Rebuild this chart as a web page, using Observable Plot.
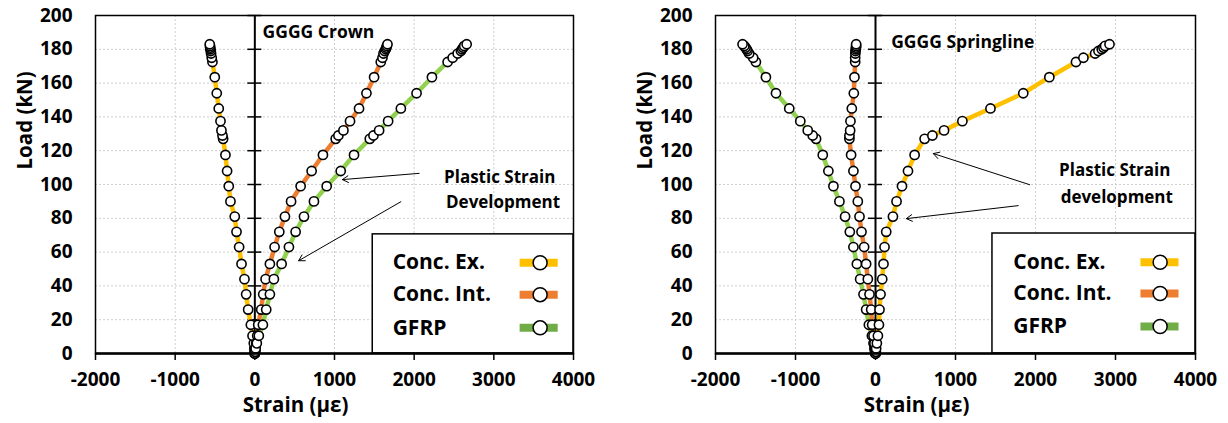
<!DOCTYPE html>
<html><head><meta charset="utf-8">
<script src="https://cdn.jsdelivr.net/npm/d3@7"></script>
<script src="https://cdn.jsdelivr.net/npm/@observablehq/plot@0.6"></script>
<style>
body{margin:0;background:#fff}
#wrap{display:flex;width:1228px;height:423px}
svg{overflow:visible}
</style>
</head><body><div id="wrap"></div>
<script>
// Load steps (kN), shared by all series
const loads = [0,1,3,6,10.5,17,26,35,44,53,63,72,81,90,99,108,117.5,127,129,132,137.5,145,154,163.5,172.5,175,177.5,179,180,181,182,183];

// GGGG Crown strains (με)
const crownEx  = [0,-3,-6,-13,-29,-50,-84,-109,-130,-167,-197,-230,-252,-306,-327,-348,-369,-398,-406,-419,-431,-453,-478,-503,-532,-541,-549,-553,-558,-560,-563,-566];
const crownInt = [0,4,8,17,30,42,80,105,135,189,248,307,378,455,575,713,855,1015,1049,1112,1195,1308,1401,1497,1581,1602,1615,1630,1644,1650,1658,1665];
const crownGfrp = [0,5,10,25,50,101,143,189,239,336,428,512,617,742,902,1078,1245,1443,1489,1560,1673,1833,2030,2223,2420,2483,2546,2587,2600,2615,2629,2659];

// GGGG Springline strains (με)
const springEx  = [0,4,8,17,30,43,50,63,84,100,113,134,218,263,331,406,489,614,711,857,1086,1437,1847,2173,2506,2599,2745,2787,2828,2850,2870,2925];
const springInt = [0,-4,-8,-13,-25,-42,-54,-75,-96,-117,-142,-175,-200,-221,-250,-276,-305,-326,-326,-317,-313,-296,-271,-263,-254,-254,-252,-250,-246,-244,-242,-242];
const springGfrp = [0,-5,-13,-25,-45,-83,-117,-150,-192,-233,-276,-321,-380,-451,-526,-589,-659,-743,-785,-847,-940,-1078,-1244,-1370,-1495,-1529,-1579,-1599,-1610,-1625,-1640,-1662];

const seriesNames = ["Conc. Ex.", "Conc. Int.", "GFRP"];
const lineColors = ["#FFC000", "#ED7D31", "#92D050"];
const legendColors = ["#FFC000", "#ED7D31", "#70AD47"];
const xTicks = [-2000,-1000,0,1000,2000,3000,4000];
const yTicks = [0,20,40,60,80,100,120,140,160,180,200];
const xLabel = "Strain (με)";
const yLabel = "Load (kN)";

const FONT = "'Open Sans', 'Noto Sans', sans-serif";

function chart(cfg) {
  const rows = cfg.series.map((vals, i) => vals.map((v, k) => ({series: seriesNames[i], strain: v, load: loads[k]})));
  const lg = cfg.legend;
  const marks = [
    Plot.gridX(xTicks.filter(t => t > -2000 && t < 4000 && t !== 0), {stroke: "#cfcfcf", strokeOpacity: 1, strokeDasharray: "2,2"}),
    Plot.gridY(yTicks.filter(t => t > 0 && t < 200), {stroke: "#cfcfcf", strokeOpacity: 1, strokeDasharray: "2,2"}),
    Plot.axisX(xTicks, {tickSize: 7, tickPadding: 12, fontSize: 19, fontWeight: 700, strokeWidth: 1.5, label: null, tickFormat: d => String(d)}),
    Plot.axisY(yTicks, {tickSize: 0, tickPadding: 23, fontSize: 19, fontWeight: 700, label: null}),
    Plot.ruleX([0], {stroke: "black", strokeWidth: 2}),
    Plot.ruleY(yTicks.filter(t => t > 0), {x1: -88, x2: 88, stroke: "black", strokeWidth: 1.5}),
    Plot.rect([0], {x1: lg.x1, x2: 4000, y1: 0, y2: lg.y2, fill: "white", stroke: "black", strokeWidth: 1.5}),
    ...cfg.order.map(i => Plot.line(rows[i], {x: "strain", y: "load", stroke: lineColors[i], strokeWidth: 4.5})),
    ...cfg.order.map(i => Plot.dot(rows[i], {x: "strain", y: "load", r: 4.6, fill: "white", stroke: "black", strokeWidth: 1.6})),
    Plot.frame({stroke: "black", strokeWidth: 1.5}),
    Plot.ruleY([0], {stroke: "black", strokeWidth: 2.5}),
    // legend
    ...seriesNames.map((n, i) => Plot.ruleY([lg.rows[i]], {x1: lg.sx1, x2: lg.sx2, stroke: legendColors[i], strokeWidth: 8})),
    Plot.dot(seriesNames, {x: lg.dotX, y: (d, i) => lg.rows[i], r: 7, fill: "white", stroke: "black", strokeWidth: 1.5}),
    Plot.text(seriesNames, {x: lg.textX, y: (d, i) => lg.rows[i], text: d => d, textAnchor: "start", fontSize: 21, fontWeight: 700, fill: "black"}),
    // title
    Plot.text([cfg.title], {x: cfg.titlePos[0], y: cfg.titlePos[1], text: d => d, textAnchor: "start", fontSize: 17.5, fontWeight: 700, fill: "black"}),
    // annotation
    Plot.text(cfg.note, {x: "x", y: "y", text: "t", fontSize: 17, fontWeight: 700, fill: "black"}),
    Plot.arrow(cfg.arrows, {x1: "x1", y1: "y1", x2: "x2", y2: "y2", stroke: "black", strokeWidth: 1, headLength: 10}),
    // axis titles
    Plot.text([xLabel], {frameAnchor: "bottom", dy: 58, dx: -39, text: d => d, fontSize: 20.5, fontWeight: 700, fill: "black"}),
    Plot.text([yLabel], {frameAnchor: "left", dx: -70, dy: -15, rotate: -90, text: d => d, fontSize: 20.5, fontWeight: 700, fill: "black"})
  ];
  return Plot.plot({
    width: 614, height: 423,
    marginLeft: cfg.marginLeft, marginRight: cfg.marginRight, marginTop: 15, marginBottom: 70,
    x: {domain: [-2000, 4000]},
    y: {domain: [0, 200]},
    style: {fontFamily: FONT, color: "black", background: "white", overflow: "visible"},
    marks
  });
}

const wrap = document.getElementById("wrap");
wrap.appendChild(chart({
  series: [crownEx, crownInt, crownGfrp],
  order: [0, 1, 2],
  marginLeft: 95, marginRight: 41,
  title: "GGGG Crown", titlePos: [97, 190],
  legend: {x1: 1480, y2: 70.5, rows: [53.7, 34.8, 15.2], textX: 1730, sx1: 3330, sx2: 3808, dotX: 3581},
  note: [{x: 3074, y: 104, t: "Plastic Strain"}, {x: 3116, y: 89.1, t: "Development"}],
  arrows: [{x1: 2063, y1: 106.6, x2: 1099, y2: 102.9}, {x1: 1833, y1: 89.8, x2: 550, y2: 54.9}]
}));
wrap.appendChild(chart({
  series: [springEx, springInt, springGfrp],
  order: [2, 1, 0],
  marginLeft: 101, marginRight: 33,
  title: "GGGG Springline", titlePos: [196, 184],
  legend: {x1: 1462, y2: 71, rows: [54, 35.5, 16], textX: 1722, sx1: 3318, sx2: 3794, dotX: 3558},
  note: [{x: 2991, y: 108.1, t: "Plastic Strain"}, {x: 3016, y: 92.1, t: "development"}],
  arrows: [{x1: 1926, y1: 99.9, x2: 723, y2: 118.3}, {x1: 1784, y1: 87.5, x2: 385, y2: 79.8}]
}));
</script>
</body></html>
